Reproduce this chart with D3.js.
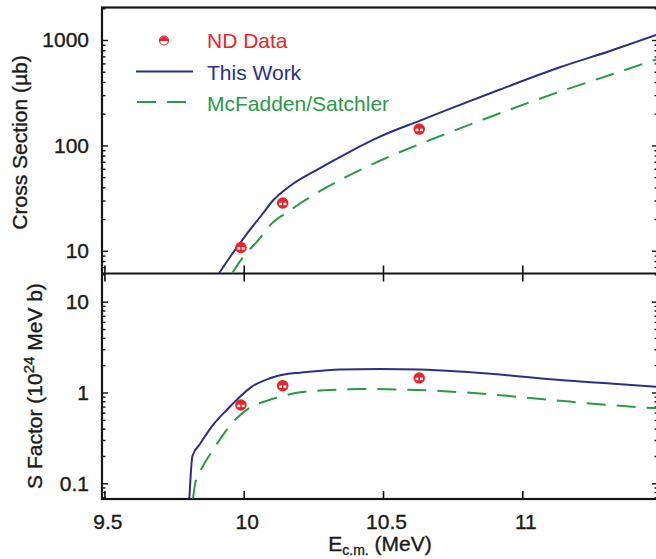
<!DOCTYPE html>
<html><head><meta charset="utf-8">
<script src="https://cdn.jsdelivr.net/npm/d3@7"></script>
<style>
html,body{margin:0;padding:0;background:#fff;}
svg{display:block;font-family:"Liberation Sans",Arial,Helvetica,sans-serif;}
</style></head>
<body>
<svg id="chart" width="656" height="559"></svg>
<script>
// ---- data ----
const ndEnergy = [9.99, 10.14, 10.63];
const ndCrossSection = [10.75, 28.4, 143];
const ndSFactor = [0.728, 1.188, 1.444];

const thisWorkCsE = [9.911, 9.951, 10.008, 10.066, 10.105, 10.166, 10.274, 10.382, 10.489, 10.633, 10.730, 10.920, 11.135, 11.315, 11.480];
const thisWorkCs  = [6.09, 8.73, 14.1, 22.1, 30.0, 41.2, 61.0, 87.5, 121, 172, 217, 339, 551, 786, 1115];

const mcfCsE = [9.958, 9.999, 10.050, 10.101, 10.160, 10.202, 10.346, 10.495, 10.669, 10.848, 11.141, 11.315, 11.480];
const mcfCs  = [6.09, 8.79, 12.4, 18.2, 23.5, 28.1, 46.9, 72.7, 112.5, 171.5, 328, 466, 653];

const thisWorkSE = [9.805, 9.816, 9.843, 9.890, 9.939, 9.981, 10.029, 10.094, 10.154, 10.202, 10.346, 10.489, 10.633, 10.776, 10.920, 11.135, 11.315, 11.480];
const thisWorkS  = [0.068, 0.20, 0.271, 0.439, 0.642, 0.863, 1.159, 1.434, 1.598, 1.652, 1.792, 1.815, 1.792, 1.703, 1.578, 1.373, 1.256, 1.159];

const mcfSE = [9.818, 9.827, 9.854, 9.890, 9.933, 9.976, 10.023, 10.084, 10.154, 10.202, 10.310, 10.417, 10.561, 10.705, 10.848, 10.992, 11.135, 11.297, 11.480];
const mcfS  = [0.068, 0.103, 0.155, 0.233, 0.367, 0.524, 0.683, 0.812, 0.939, 1.005, 1.065, 1.093, 1.079, 1.039, 0.975, 0.892, 0.812, 0.734, 0.670];

const xTicks = [9.5, 10, 10.5, 11];
const xTickLabels = ["9.5", "10", "10.5", "11"];
const csTicks = [10, 100, 1000];
const csTickLabels = ["10", "100", "1000"];
const sTicks = [0.1, 1, 10];
const sTickLabels = ["0.1", "1", "10"];
const legendLabels = ["ND Data", "This Work", "McFadden/Satchler"];

// ---- style ----
const RED = "#e8252b", BLUE = "#2b2f86", GREEN = "#2a9a46", INK = "#1a1a1a";
const L = 102, R = 658, T = 7.5, MID = 273.5, B = 499;

const svg = d3.select("#chart");

const x = d3.scaleLinear().domain([10, 11]).range([243.7, 522.3]);
const yTop = d3.scaleLog().domain([10, 1000]).range([250.8, 40]);
const yBot = d3.scaleLog().domain([0.1, 10]).range([483.3, 301.7]);

const defs = svg.append("defs");
defs.append("clipPath").attr("id","clipTop").append("rect")
  .attr("x", L).attr("y", T).attr("width", R - L).attr("height", MID - T);
defs.append("clipPath").attr("id","clipBot").append("rect")
  .attr("x", L).attr("y", MID).attr("width", R - L).attr("height", B - MID);

function minorTicks(lo, hi){
  const out = [];
  for (let d = lo; d < hi; d *= 10) for (let k = 2; k <= 9; k++) out.push(d * k);
  return out;
}

function heavyText(sel, size){
  sel.attr("font-size", size).attr("fill", INK)
     .attr("stroke", INK).attr("stroke-width", 0.35)
     .attr("font-family","Liberation Sans, Arial, sans-serif");
}

function yAxes(y, majors, labels, minorLo, minorHi, top, bottom){
  const minors = minorTicks(minorLo, minorHi).filter(v => y(v) >= top - 0.5 && y(v) <= bottom + 0.5);
  const gL = svg.append("g").attr("transform", `translate(${L},0)`);
  gL.call(d3.axisLeft(y).tickValues(majors).tickSize(-6).tickPadding(13)
      .tickFormat((d,i) => labels[i]));
  gL.append("g").call(d3.axisLeft(y).tickValues(minors).tickSize(-3.5).tickFormat(""));
  gL.selectAll(".domain").remove();
  gL.selectAll("line").attr("stroke","#111").attr("stroke-width",1.4);
  heavyText(gL.selectAll("text"), 21);
  const gR = svg.append("g").attr("transform", `translate(${R},0)`);
  gR.call(d3.axisRight(y).tickValues(majors).tickSize(-6).tickFormat(""));
  gR.append("g").call(d3.axisRight(y).tickValues(minors).tickSize(-3.5).tickFormat(""));
  gR.selectAll(".domain").remove();
  gR.selectAll("line").attr("stroke","#111").attr("stroke-width",1.4);
}

yAxes(yTop, csTicks, csTickLabels, 1, 10000, T, MID);
yAxes(yBot, sTicks, sTickLabels, 0.01, 100, MID, B);

// x ticks: bottom axis of bottom panel
const gXB = svg.append("g").attr("transform", `translate(0,${B})`);
gXB.call(d3.axisBottom(x).tickValues(xTicks).tickSize(-8).tickPadding(15)
   .tickFormat((d,i) => xTickLabels[i]));
gXB.selectAll(".domain").remove();
gXB.selectAll("line").attr("stroke","#111").attr("stroke-width",1.6);
heavyText(gXB.selectAll("text"), 21);
gXB.selectAll("text").attr("dx", 3);

// x ticks at the divider (both panels)
const gXM1 = svg.append("g").attr("transform", `translate(0,${MID})`);
gXM1.call(d3.axisBottom(x).tickValues(xTicks).tickSize(-8).tickFormat(""));
const gXM2 = svg.append("g").attr("transform", `translate(0,${MID})`);
gXM2.call(d3.axisTop(x).tickValues(xTicks).tickSize(-8).tickFormat(""));
[gXM1, gXM2].forEach(g => {
  g.selectAll(".domain").remove();
  g.selectAll("line").attr("stroke","#111").attr("stroke-width",1.6);
});

// frame
const frame = svg.append("g").attr("fill","none").attr("stroke","#151515").attr("stroke-width",2.2);
frame.append("rect").attr("x", L).attr("y", T).attr("width", R - L).attr("height", B - T);
frame.append("line").attr("x1", L).attr("x2", R).attr("y1", MID).attr("y2", MID);

// curves
function drawCurve(clip, y, xs, ys, color, dash){
  const pts = xs.map((e, i) => [e, ys[i]]);
  const line = d3.line().x(d => x(d[0])).y(d => y(d[1])).curve(d3.curveMonotoneX);
  svg.append("path").attr("clip-path", `url(#${clip})`)
    .attr("d", line(pts)).attr("fill","none").attr("stroke", color)
    .attr("stroke-width", 2).attr("stroke-dasharray", dash || null);
}
drawCurve("clipTop", yTop, mcfCsE, mcfCs, GREEN, "19,11");
drawCurve("clipTop", yTop, thisWorkCsE, thisWorkCs, BLUE);
drawCurve("clipBot", yBot, mcfSE, mcfS, GREEN, "19,11");
drawCurve("clipBot", yBot, thisWorkSE, thisWorkS, BLUE);

// data markers
function drawMarkers(y, vals){
  const g = svg.append("g");
  ndEnergy.forEach((e, i) => {
    const cx = x(e), cy = y(vals[i]);
    g.append("circle").attr("cx", cx).attr("cy", cy).attr("r", 5.8).attr("fill", RED);
    g.append("rect").attr("x", cx - 3.6).attr("y", cy - 0.3).attr("width", 7.2).attr("height", 2.4).attr("fill", "#fff");
    g.append("line").attr("x1", cx).attr("x2", cx).attr("y1", cy - 3).attr("y2", cy + 3.5)
      .attr("stroke", RED).attr("stroke-width", 1.6);
  });
}
drawMarkers(yTop, ndCrossSection);
drawMarkers(yBot, ndSFactor);

// legend
const lg = svg.append("g").attr("font-size", 21).attr("font-family","Liberation Sans, Arial, sans-serif");
const mx = 164, my = 40.5, mr = 4.5;
lg.append("circle").attr("cx", mx).attr("cy", my).attr("r", mr).attr("fill","#fff").attr("stroke", RED).attr("stroke-width",1.2);
lg.append("path").attr("d", `M${mx - mr},${my + 0.6} A${mr},${mr} 0 0 1 ${mx + mr},${my + 0.6} Z`).attr("fill", RED);
lg.append("text").attr("x", 207).attr("y", 47.5).attr("fill", RED).text(legendLabels[0]);
lg.append("line").attr("x1", 136).attr("x2", 193).attr("y1", 71.5).attr("y2", 71.5).attr("stroke", BLUE).attr("stroke-width", 2);
lg.append("text").attr("x", 207).attr("y", 79.5).attr("fill", BLUE).text(legendLabels[1]);
lg.append("line").attr("x1", 137).attr("x2", 197).attr("y1", 102).attr("y2", 102).attr("stroke", GREEN).attr("stroke-width", 2).attr("stroke-dasharray","19,11");
lg.append("text").attr("x", 207).attr("y", 110.5).attr("fill", GREEN).text(legendLabels[2]);

// axis titles
const ct = svg.append("text").attr("transform", "translate(27,142.5) rotate(-90)")
  .attr("text-anchor","middle").text("Cross Section (\u00b5b)");
heavyText(ct, 21);

const st = svg.append("text").attr("transform", "translate(42,386) rotate(-90)")
  .attr("text-anchor","middle");
heavyText(st, 21);
st.append("tspan").text("S Factor (10");
st.append("tspan").attr("font-size", 15).attr("dy", -8).text("24");
st.append("tspan").attr("dy", 8).text(" MeV b)");

const xt = svg.append("text").attr("x", 380).attr("y", 551).attr("text-anchor","middle");
heavyText(xt, 21);
xt.append("tspan").text("E");
xt.append("tspan").attr("font-size", 14).attr("dy", 4).text("c.m.");
xt.append("tspan").attr("dy", -4).text(" (MeV)");
</script>
</body></html>
